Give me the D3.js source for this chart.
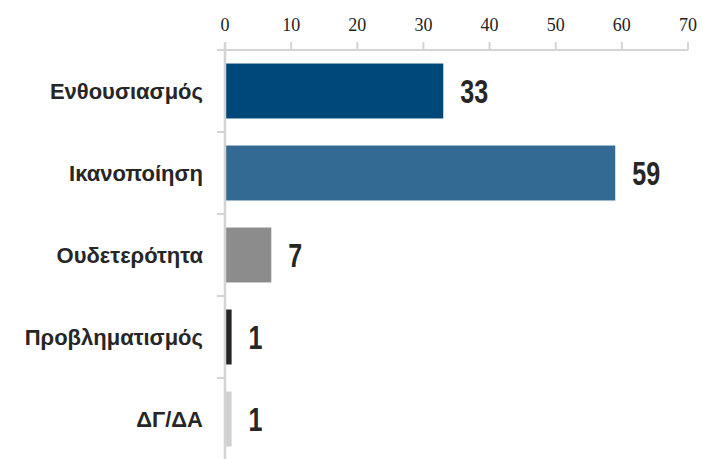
<!DOCTYPE html>
<html>
<head>
<meta charset="utf-8">
<script src="https://cdn.jsdelivr.net/npm/d3@7"></script>
<style>
  body { margin: 0; background: #fff; }
  .tick-label { font-family: "Liberation Serif", "DejaVu Serif", serif; font-size: 18px; fill: #222; }
  .cat-label { font-family: "Liberation Sans", Arial, sans-serif; font-size: 22px; font-weight: bold; fill: #262626; }
  .val-label { font-family: "Liberation Sans", Arial, sans-serif; font-size: 33px; font-weight: bold; fill: #262626; }
</style>
</head>
<body>
<div id="chart"></div>
<script>
const categories = ["Ενθουσιασμός", "Ικανοποίηση", "Ουδετερότητα", "Προβληματισμός", "ΔΓ/ΔΑ"];
const values = [33, 59, 7, 1, 1];
const barColors = ["#00477a", "#336a94", "#8c8c8c", "#262626", "#d0d0d0"];
const xTicks = [0, 10, 20, 30, 40, 50, 60, 70];

function drawChart() {
    const W = 703, H = 459;
    const x0 = 225, x1 = 688, yTop = 50, yBot = 460;

    d3.select("#chart").selectAll("*").remove();

    const svg = d3.select("#chart")
        .append("svg")
        .attr("width", W)
        .attr("height", H);

    const x = d3.scaleLinear().domain([0, 70]).range([x0, x1]);
    const y = d3.scaleBand().domain(categories).range([yTop, yBot]).paddingInner(0.33).paddingOuter(0.165);

    // top axis
    const axisColor = "#d4d4d4";
    svg.append("line")
        .attr("x1", x0 - 8).attr("x2", x(70))
        .attr("y1", yTop).attr("y2", yTop)
        .attr("stroke", axisColor).attr("stroke-width", 2);

    svg.selectAll(".xtick")
        .data(xTicks)
        .enter().append("line")
        .attr("x1", d => x(d)).attr("x2", d => x(d))
        .attr("y1", yTop - 8).attr("y2", yTop)
        .attr("stroke", axisColor).attr("stroke-width", 2);

    svg.selectAll(".tick-label")
        .data(xTicks)
        .enter().append("text")
        .attr("class", "tick-label")
        .attr("x", d => x(d))
        .attr("y", 31)
        .attr("text-anchor", "middle")
        .text(d => d);

    // bars
    svg.selectAll(".bar")
        .data(categories)
        .enter().append("rect")
        .attr("x", x(0))
        .attr("y", d => y(d))
        .attr("width", (d, i) => x(values[i]) - x(0))
        .attr("height", y.bandwidth())
        .attr("fill", (d, i) => barColors[i]);

    // left axis with separators between categories
    svg.append("line")
        .attr("x1", x0).attr("x2", x0)
        .attr("y1", yTop - 8).attr("y2", yBot)
        .attr("stroke", axisColor).attr("stroke-width", 2.5);

    const seps = categories.slice(1).map(c => y(c) - y.step() * y.paddingInner() / 2);
    svg.selectAll(".sep")
        .data(seps)
        .enter().append("line")
        .attr("x1", x0 - 8).attr("x2", x0)
        .attr("y1", d => d).attr("y2", d => d)
        .attr("stroke", axisColor).attr("stroke-width", 2);

    // category labels
    svg.selectAll(".cat-label")
        .data(categories)
        .enter().append("text")
        .attr("class", "cat-label")
        .attr("x", 203)
        .attr("y", d => y(d) + y.bandwidth() / 2)
        .attr("dy", "0.35em")
        .attr("text-anchor", "end")
        .text(d => d);

    // value labels (condensed look via horizontal scale)
    svg.selectAll(".val-label")
        .data(categories)
        .enter().append("text")
        .attr("class", "val-label")
        .attr("transform", (d, i) => `translate(${x(values[i]) + 17},${y(d) + y.bandwidth() / 2}) scale(0.76,1)`)
        .attr("dy", "0.36em")
        .text((d, i) => values[i]);
}

drawChart();
</script>
</body>
</html>
